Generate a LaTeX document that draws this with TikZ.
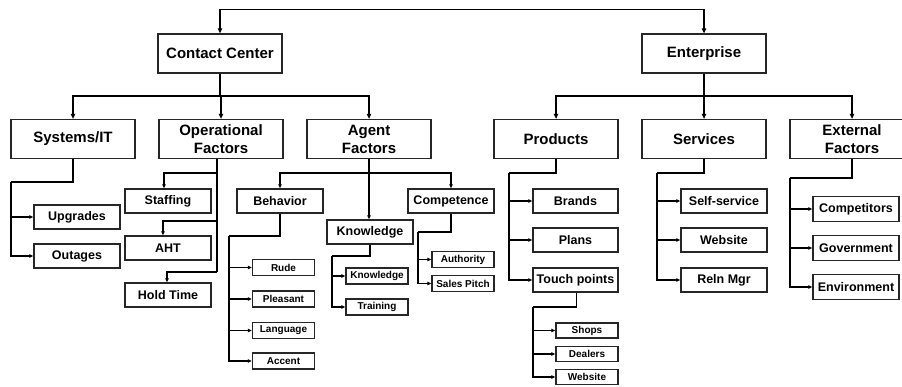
\documentclass[tikz,border=0pt]{standalone}
\usepackage{fontspec}
\setmainfont{Liberation Sans}
\usetikzlibrary{arrows.meta}
\tikzset{
 box/.style={draw=black!85, line width=1.3pt, inner sep=0pt, align=center},
 bigbox/.style={box, minimum width=124pt, minimum height=39pt, font=\fontsize{15}{18}\selectfont\bfseries},
 midbox/.style={box, minimum width=86pt, minimum height=24pt, font=\fontsize{12.5}{14}\selectfont\bfseries},
 smallbox/.style={box, minimum width=62pt, minimum height=16pt, font=\fontsize{10}{12}\selectfont\bfseries},
 wire/.style={line width=1.1pt},
 link/.style={wire, -{Triangle[length=5pt,width=4.5pt]}},
 leaflink/.style={wire, -{Triangle[length=4pt,width=3.5pt]}},
}
\begin{document}
\begin{tikzpicture}[x=1pt,y=-1pt]
 \useasboundingbox (0,0) rectangle (902,386);
 \clip (0,0) rectangle (902,386);
 % top two trees
 \node[bigbox] (cc) at (220,53.5) {Contact Center};
 \node[bigbox] (ent) at (704,53.5) {Enterprise};
 \coordinate (top) at (462,9.5);
 \draw[link] (top) -| (cc);
 \draw[link] (top) -| (ent);
 \node[bigbox] (sys) at (73,139) {Systems/IT};
 \node[bigbox] (op) at (221,139) {Operational\\Factors};
 \node[bigbox] (ag) at (369,139) {Agent\\Factors};
 \node[bigbox] (prod) at (556,139) {Products};
 \node[bigbox] (serv) at (704,139) {Services};
 \node[bigbox] (ext) at (852,139) {External\\Factors};
 \coordinate (ccbus) at (220,96);
 \coordinate (entbus) at (704,96);
 \draw[wire] (cc.south) -- (ccbus);
 \draw[wire] (ent.south) -- (entbus);
 \foreach \n in {sys,op,ag} {\draw[link] (ccbus) -| (\n);}
 \foreach \n in {prod,serv,ext} {\draw[link] (entbus) -| (\n);}
 % systems
 \coordinate (sysbend) at (11,182);
 \draw[wire] (sys.south) |- (sysbend);
 \foreach \n/\y/\t in {upg/217/Upgrades,outg/256/Outages} {
  \node[midbox] (\n) at (77,\y) {\t};
  \draw[leaflink] (sysbend) |- (\n.west);
 }
 % operational
 \node[midbox] (staff) at (168,201) {Staffing};
 \node[midbox] (aht) at (168,248) {AHT};
 \node[midbox] (hold) at (168,295) {Hold Time};
 \coordinate (opa) at (217,173);
 \coordinate (opb) at (217,221);
 \coordinate (opc) at (217,272);
 \draw[wire] (op.south -| opa) -- (opc);
 \draw[leaflink] (opa) -| ([xshift=-4pt]staff.north);
 \draw[leaflink] (opb) -| ([xshift=-5pt]aht.north);
 \draw[leaflink] (opc) -| ([xshift=-1pt]hold.north);
 % agent
 \node[midbox] (beh) at (280,201) {Behavior};
 \node[midbox] (comp) at (451,201) {Competence};
 \node[midbox] (kno) at (370,232) {Knowledge};
 \coordinate (agbus) at (369,173);
 \draw[leaflink] (ag.south) -- (ag.south |- kno.north);
 \draw[leaflink] (agbus) -| (beh);
 \draw[leaflink] (agbus) -| (comp);
 \coordinate (behbend) at (229,236);
 \draw[wire] (beh.south) |- (behbend);
 \foreach \n/\y/\t in {rude/267.5/Rude,pleas/299/Pleasant,lang/330.5/Language,acc/361/Accent} {
  \node[smallbox] (\n) at (283.5,\y) {\t};
  \draw[leaflink] (behbend) |- (\n.west);
 }
 \coordinate (knobend) at (332,256);
 \draw[wire] (kno.south) |- (knobend);
 \foreach \n/\y/\t in {knoa/276/Knowledge,train/307/Training} {
  \node[smallbox] (\n) at (377,\y) {\t};
  \draw[leaflink] (knobend) |- (\n.west);
 }
 \coordinate (compbend) at (418,232);
 \draw[wire] (comp.south) |- (compbend);
 \foreach \n/\y/\t in {auth/259.5/Authority,pitch/283.5/Sales Pitch} {
  \node[smallbox] (\n) at (463,\y) {\t};
  \draw[leaflink] (compbend) |- (\n.west);
 }
 % products
 \coordinate (prodbend) at (509,173);
 \draw[wire] (prod.south) |- (prodbend);
 \foreach \n/\y/\t in {brand/201/Brands,plan/240/Plans,touch/280/Touch points} {
  \node[midbox,minimum width=85pt] (\n) at (575.5,\y) {\t};
  \draw[leaflink] (prodbend) |- (\n.west);
 }
 \coordinate (touchbend) at (533,307);
 \draw[wire] ([xshift=1pt]touch.south) |- (touchbend);
 \foreach \n/\y/\t in {shop/330.5/Shops,deal/354/Dealers,weba/377/Website} {
  \node[smallbox,minimum height=15pt] (\n) at (587,\y) {\t};
  \draw[leaflink] (touchbend) |- (\n.west);
 }
 % services
 \coordinate (servbend) at (657,173);
 \draw[wire] (serv.south) |- (servbend);
 \foreach \n/\y/\t in {self/201/Self-service,webb/240/Website,reln/280/Reln Mgr} {
  \node[midbox] (\n) at (724,\y) {\t};
  \draw[leaflink] (servbend) |- (\n.west);
 }
 % external
 \coordinate (extbend) at (790,178);
 \draw[wire] (ext.south) |- (extbend);
 \foreach \n/\y/\t in {compt/209/Competitors,gov/248/Government,env/287/Environment} {
  \node[midbox,minimum height=25pt] (\n) at (856,\y) {\t};
  \draw[leaflink] (extbend) |- (\n.west);
 }
\end{tikzpicture}
\end{document}
